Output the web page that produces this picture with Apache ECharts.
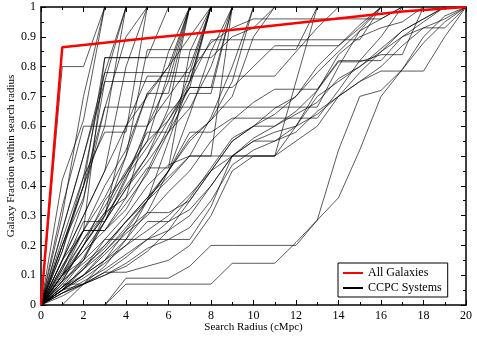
<!DOCTYPE html>
<html>
<head>
<meta charset="utf-8">
<script src="https://cdn.jsdelivr.net/npm/echarts@6/dist/echarts.min.js"></script>
<style>
  html, body { margin: 0; padding: 0; background: #fff; }
  #chart { width: 477px; height: 342px; }
</style>
</head>
<body>
<div id="chart"></div>
<script>
// search radius (cMpc) sampled at every integer
var radius = [0,1,2,3,4,5,6,7,8,9,10,11,12,13,14,15,16,17,18,19,20]

// all galaxies (red)
var allRadius = [0, 1, 5, 10, 17, 20]
var allFraction = [0, 0.865, 0.895, 0.93, 0.985, 1]

// CCPC systems: fraction at each radius, null = not drawn
var ccpcFractions = [
  [0,0.8,0.8,1],
  [0,0.42,0.62,1],
  [0,0.3,0.7,1],
  [0,0.33,0.6,0.6,1],
  [0,0.22,0.43,0.78,1],
  [0,0.25,0.5,0.75,1],
  [0,0.18,0.43,0.58,0.58,1],
  [0,0.15,0.3,0.45,0.8,1],
  [0,0.2,0.36,0.66,0.9,1],
  [0,0.13,0.25,0.83,0.83,0.83,1],
  [0,0.1,0.25,0.36,0.5,0.71,0.8,1],
  [0,0.12,0.28,0.28,0.42,0.6,0.85,1],
  [0,0.08,0.2,0.31,0.44,0.55,0.78,1],
  [0,0.15,0.25,0.4,0.52,0.71,0.71,1],
  [0,0.06,0.15,0.3,0.6,0.6,0.75,1],
  [0,0.1,0.18,0.28,0.39,0.5,0.66,1],
  [0,0.09,0.2,0.35,0.44,0.58,0.58,0.78,1],
  [0,0.13,0.25,0.25,0.36,0.46,0.46,0.85,1],
  [0,0.07,0.16,0.28,0.43,0.53,0.64,0.73,1],
  [0,0.11,0.22,0.31,0.36,0.6,0.7,0.8,1],
  [0,0.05,0.12,0.22,0.22,0.35,0.55,0.75,1],
  [0,0.08,0.15,0.28,0.39,0.48,0.58,0.71,0.71,1],
  [0,0.05,0.13,0.19,0.28,0.36,0.43,0.5,0.5,1],
  [0,0.1,0.18,0.25,0.32,0.45,0.6,0.73,0.73,1],
  [0,0.07,0.07,0.15,0.22,0.31,0.45,0.64,0.85,1],
  [0,0.12,0.25,0.25,0.34,0.44,0.58,0.66,0.8,1],
  [0,0.06,0.12,0.2,0.28,0.36,0.45,0.56,0.62,0.75,1],
  [0,0.1,0.15,0.22,0.3,0.4,0.47,0.5,0.63,0.8,1],
  [0,0.05,0.1,0.15,0.25,0.35,0.45,0.55,0.62,0.7,0.9,1],
  [0,0.08,0.14,0.2,0.28,0.35,0.42,0.5,0.5,0.5,0.5,0.5,0.75,1],
  [0,0.1,0.2,0.3,0.5,0.857,0.857,0.857,0.857,0.857,0.857,0.857,0.857,1],
  [0,0.2,0.4,0.83,0.83,0.83,0.83,0.83,0.83,0.9,0.93,1],
  [0,0.25,0.5,0.78,0.78,0.78,0.78,0.78,0.88,0.93,0.96,0.96,0.96,0.96,0.96,0.96,0.96,1],
  [0,0.15,0.35,0.75,0.75,0.75,0.75,0.75,1],
  [0,0.15,0.3,0.45,0.6,0.768,0.768,0.768,0.768,0.768,0.768,0.768,0.85,0.93,1],
  [0,0.18,0.4,0.664,0.664,0.664,0.664,0.664,0.664,0.664,0.664,0.664,0.664,0.664,0.8,0.92,1],
  [0,0.2,0.4,0.6,0.6,0.7,0.8,0.9,1],
  [0,0.1,0.22,0.33,0.45,0.55,0.62,0.75,0.89,0.89,0.89,0.89,0.89,0.89,0.89,0.89,1],
  [0,0.06,0.12,0.18,0.26,0.35,0.45,0.58,0.58,0.627,0.627,0.627,0.627,0.627,0.72,0.82,0.9,1],
  [0,0.05,0.1,0.17,0.24,0.3,0.38,0.45,0.55,0.62,0.68,0.724,0.724,0.724,0.82,0.82,0.82,0.9,0.95,1],
  [0,0.08,0.2,0.3,0.4,0.5,0.62,0.73,0.73,0.73,0.8,0.87,0.87,0.87,0.87,0.93,1],
  [0,0.05,0.1,0.15,0.2,0.25,0.3,0.37,0.45,0.55,0.6,0.6,0.65,0.72,0.816,0.816,0.84,0.84,1],
  [0,0.04,0.08,0.12,0.17,0.22,0.25,0.3,0.4,0.5,0.55,0.55,0.58,0.65,0.7,0.75,0.785,0.785,0.785,0.9,1],
  [0,0.04,0.07,0.1,0.13,0.18,0.25,0.35,0.45,0.5,0.5,0.5,0.6,0.7,0.75,0.8,0.85,0.9,0.93,0.93,1],
  [0,0.03,0.07,0.11,0.16,0.22,0.28,0.32,0.4,0.5,0.56,0.6,0.64,0.68,0.76,0.8,0.86,0.92,0.96,1],
  [0,0.05,0.09,0.14,0.2,0.28,0.28,0.36,0.46,0.56,0.6,0.66,0.7,0.8,0.87,0.94,1],
  [0,0.06,0.1,0.18,0.25,0.31,0.31,0.35,0.45,0.55,0.6,0.64,0.7,0.78,0.85,0.92,0.96,1],
  [0,0.05,0.07,0.1,0.14,0.19,0.22,0.26,0.35,0.47,0.52,0.55,0.6,0.72,0.84,0.9,0.93,0.95,1],
  [0,0.04,0.07,0.13,0.22,0.22,0.22,0.22,0.33,0.5,0.55,0.58,0.6,0.64,0.7,0.75,0.8,0.87,0.93,0.96,1],
  [null,0,0.07,0.11,0.11,0.13,0.15,0.2,0.3,0.45,0.5,0.5,0.55,0.6,0.7,0.78,0.85,0.92,0.96,1],
  [null,null,null,0,0.09,0.09,0.09,0.13,0.2,0.2,0.2,0.2,0.2,0.285,0.36,0.52,0.7,0.79,0.88,0.95,1],
  [null,null,null,0,0.07,0.07,0.07,0.07,0.07,0.14,0.14,0.14,0.21,0.285,0.52,0.7,0.72,0.79,0.9,0.97,1]
]

var FONT = 'Liberation Serif'

var series = []
ccpcFractions.forEach(function (sys) {
  var pts = []
  for (var i = 0; i < sys.length; i++) {
    if (sys[i] !== null) pts.push([radius[i], sys[i]])
  }
  series.push({
    name: 'CCPC Systems',
    type: 'line',
    data: pts,
    symbol: 'none',
    silent: true,
    lineStyle: { color: '#000', width: 0.65 },
    itemStyle: { color: '#000' },
    z: 2
  })
})
series.push({
  name: 'All Galaxies',
  type: 'line',
  data: allRadius.map(function (r, i) { return [r, allFraction[i]] }),
  symbol: 'none',
  silent: true,
  lineStyle: { color: '#ff0000', width: 2.5 },
  itemStyle: { color: '#ff0000' },
  z: 5
})

function axisBase(extra) {
  var base = {
    type: 'value',
    axisLine: { show: true, onZero: false, lineStyle: { color: '#000', width: 1.5 } },
    axisTick: { show: true, inside: true, length: 5, lineStyle: { color: '#000', width: 1 } },
    minorTick: { show: true, splitNumber: 2, length: 3, lineStyle: { color: '#000', width: 1 } },
    splitLine: { show: false },
    minorSplitLine: { show: false }
  }
  return Object.assign(base, extra)
}

var chart = echarts.init(document.getElementById('chart'), null, { renderer: 'canvas' })
chart.setOption({
  animation: false,
  backgroundColor: '#fff',
  grid: { left: 41, right: 11, top: 7, bottom: 37, containLabel: false, outerBoundsMode: 'none' },
  legend: {
    left: 338, top: 263,
    orient: 'vertical',
    backgroundColor: '#fff',
    borderColor: '#000',
    borderWidth: 1,
    borderRadius: 0,
    padding: [4, 6, 3, 5],
    itemGap: 3,
    itemWidth: 20,
    itemHeight: 2,
    textStyle: { fontFamily: FONT, fontSize: 12, color: '#000' },
    data: [
      { name: 'All Galaxies', icon: 'rect', itemStyle: { color: '#ff0000' } },
      { name: 'CCPC Systems', icon: 'rect', itemStyle: { color: '#000' } }
    ]
  },
  xAxis: [
    axisBase({
      position: 'bottom', min: 0, max: 20, interval: 2,
      name: 'Search Radius (cMpc)', nameLocation: 'middle', nameGap: 17, nameMoveOverlap: false,
      nameTextStyle: { fontFamily: FONT, fontSize: 11, color: '#000' },
      axisLabel: { fontFamily: FONT, fontSize: 12, color: '#000', margin: 5 }
    }),
    axisBase({
      position: 'top', min: 0, max: 20, interval: 2,
      axisLabel: { show: false }
    })
  ],
  yAxis: [
    axisBase({
      position: 'left', min: 0, max: 1, interval: 0.1,
      name: 'Galaxy Fraction within search radius', nameLocation: 'middle', nameGap: 24, nameMoveOverlap: false,
      nameTextStyle: { fontFamily: FONT, fontSize: 11, color: '#000' },
      axisLabel: { fontFamily: FONT, fontSize: 12, color: '#000', margin: 5 }
    }),
    axisBase({
      position: 'right', min: 0, max: 1, interval: 0.1,
      axisLabel: { show: false }
    })
  ],
  series: series
})
</script>
</body>
</html>
